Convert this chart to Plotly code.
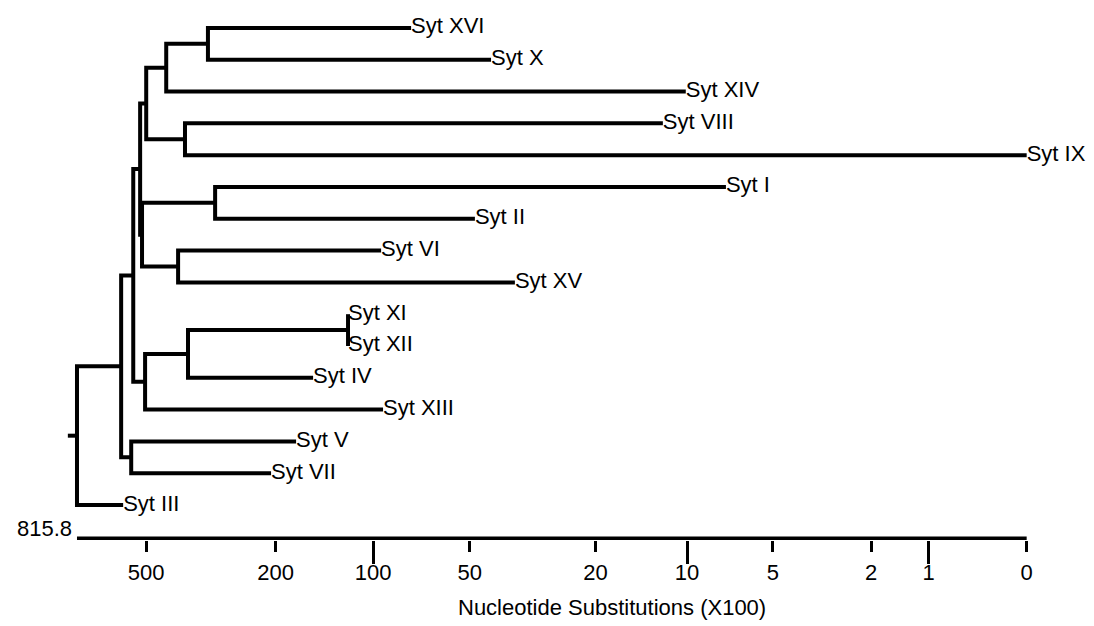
import numpy as np
import plotly.graph_objects as go

# ---------------- data ----------------
leaf_names = ["Syt XVI", "Syt X", "Syt XIV", "Syt VIII", "Syt IX", "Syt I", "Syt II",
              "Syt VI", "Syt XV", "Syt XI", "Syt XII", "Syt IV", "Syt XIII",
              "Syt V", "Syt VII", "Syt III"]
# tip heights (nucleotide substitutions x100)
leaf_heights = [76.2, 42.9, 10.1, 12.05, 0.0, 7.36, 48.2, 94.4, 36.1,
                119.5, 119.5, 153.2, 93.1, 172.9, 206.5, 588.6]

# internal nodes (children listed before parents)
node_names = ["XVI_X", "XVI_X_XIV", "VIII_IX", "top", "I_II", "VI_XV", "I_XV",
              "top_I_XV", "XI_XII", "XI_IV", "XI_XIII", "main", "V_VII", "all_but_III", "root"]
node_children = [("Syt XVI", "Syt X"), ("XVI_X", "Syt XIV"), ("Syt VIII", "Syt IX"),
                 ("XVI_X_XIV", "VIII_IX"), ("Syt I", "Syt II"), ("Syt VI", "Syt XV"),
                 ("I_II", "VI_XV"), ("top", "I_XV"), ("Syt XI", "Syt XII"),
                 ("XI_XII", "Syt IV"), ("XI_IV", "Syt XIII"), ("top_I_XV", "XI_XIII"),
                 ("Syt V", "Syt VII"), ("main", "V_VII"), ("all_but_III", "Syt III")]
node_heights = [323, 434, 380, 500, 307, 399, 515, 522, 119.5, 372, 504, 548, 556, 597, 815.8]

tick_values = [500, 200, 100, 50, 20, 10, 5, 2, 1, 0]
tick_labels = ["500", "200", "100", "50", "20", "10", "5", "2", "1", "0"]
major_tick_values = [100, 10, 1]
axis_title = "Nucleotide Substitutions (X100)"

# ---------------- styles ----------------
FONT = "Liberation Sans, Arial, Helvetica, sans-serif"
LW = 4
ROOT_STUB = 0.028
BASE_Y = 16.05


def u(v):
    return np.log10(np.asarray(v, dtype=float) + 1.0)


pos = {}
for i, (n, h) in enumerate(zip(leaf_names, leaf_heights)):
    pos[n] = (float(u(h)), float(i))

xs, ys = [], []
for n, (c1, c2), h in zip(node_names, node_children, node_heights):
    nx = float(u(h))
    x1, y1 = pos[c1]
    x2, y2 = pos[c2]
    xs += [x1, nx, nx, x2, None]
    ys += [y1, y1, y2, y2, None]
    pos[n] = (nx, (y1 + y2) / 2)

rx, ry = pos["root"]
xs += [rx, rx + ROOT_STUB, None]
ys += [ry, ry, None]

fig = go.Figure()
fig.add_trace(go.Scatter(x=xs, y=ys, mode="lines",
                         line=dict(color="black", width=LW), hoverinfo="skip",
                         showlegend=False))
fig.add_trace(go.Scatter(x=[pos[n][0] for n in leaf_names], y=[pos[n][1] for n in leaf_names],
                         mode="text", text=leaf_names, textposition="middle right",
                         textfont=dict(family=FONT, size=22, color="black"),
                         cliponaxis=False, showlegend=False, hoverinfo="skip"))
# baseline of the scale
fig.add_trace(go.Scatter(x=[float(u(node_heights[-1])), float(u(0))], y=[BASE_Y, BASE_Y],
                         mode="lines", line=dict(color="black", width=LW),
                         xaxis="x2", yaxis="y", showlegend=False, hoverinfo="skip"))

XR = [2.955, -0.001]
fig.update_layout(
    width=1094, height=626,
    margin=dict(l=55, r=75, t=5, b=94),
    paper_bgcolor="white", plot_bgcolor="white",
    font=dict(family=FONT, size=22, color="black"),
    xaxis=dict(range=XR, tickmode="array", tickvals=list(u(tick_values)),
               ticktext=tick_labels, ticks="outside", ticklen=11, tickwidth=3,
               tickcolor="black", showgrid=False, zeroline=False, showline=False,
               ticklabelstandoff=2, tickfont=dict(family=FONT, size=22, color="black")),
    xaxis2=dict(range=XR, overlaying="x", anchor="y", side="bottom",
                tickmode="array", tickvals=list(u(major_tick_values)),
                ticks="outside", ticklen=23, tickwidth=3, tickcolor="black",
                showticklabels=False, showgrid=False, zeroline=False, showline=False),
    yaxis=dict(range=[16.1, -0.47], visible=False),
    annotations=[
        dict(text=axis_title, xref="paper", yref="paper", x=0.5695, y=-0.128,
             xanchor="center", yanchor="middle", showarrow=False,
             font=dict(family=FONT, size=22, color="black")),
        dict(text=f"{node_heights[-1]:.1f}", xref="x", yref="y", x=rx, y=BASE_Y,
             xanchor="right", yanchor="middle", xshift=-3, yshift=10, showarrow=False,
             font=dict(family=FONT, size=22, color="black")),
    ],
)

fig.write_html("out.html")
